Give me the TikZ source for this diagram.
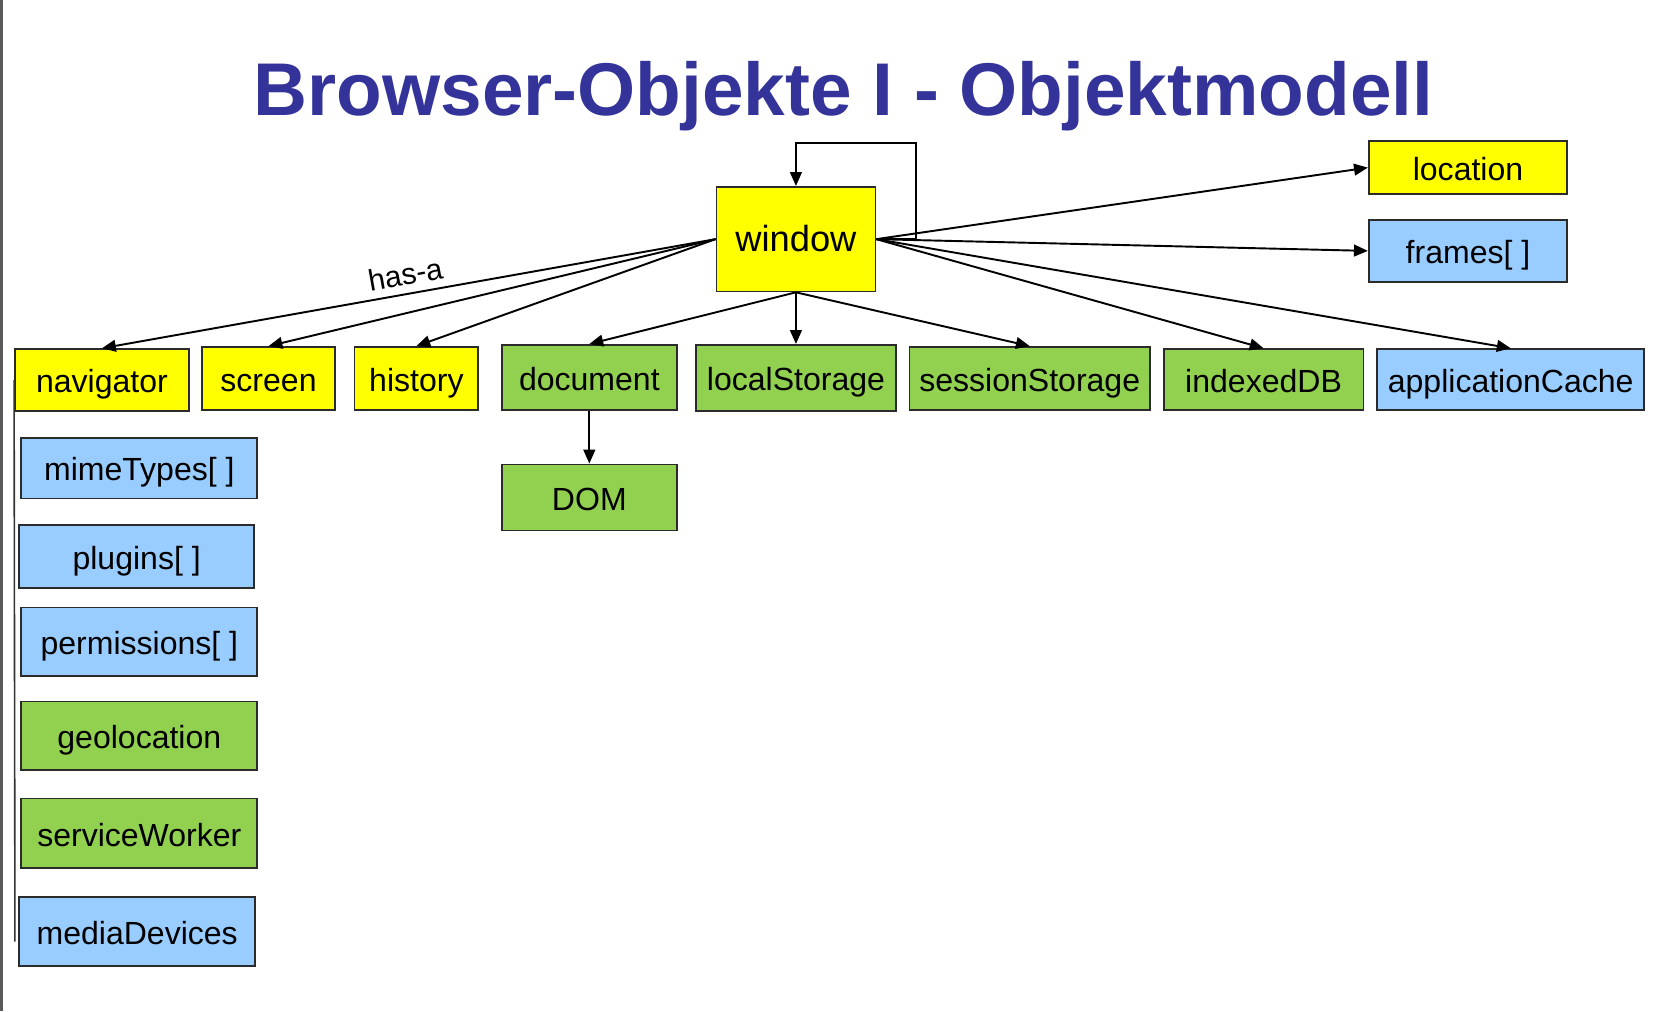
\documentclass[tikz,border=0pt]{standalone}
\usepackage{fontspec}
\setmainfont{Liberation Sans}
\usepackage{tikz}
\usetikzlibrary{arrows.meta}
\definecolor{titleblue}{HTML}{333399}
\definecolor{boxyellow}{HTML}{FFFF00}
\definecolor{boxgreen}{HTML}{92D050}
\definecolor{boxblue}{HTML}{99CCFF}
\definecolor{boxline}{HTML}{2B2B2B}

\begin{document}
\begin{tikzpicture}[x=1pt, y=-1pt,
  box/.style={draw=boxline, line width=1.6pt, inner sep=0pt, text height=24pt, text depth=0pt, font=\fontsize{30}{36}\selectfont},
  yel/.style={box, fill=boxyellow},
  grn/.style={box, fill=boxgreen},
  blu/.style={box, fill=boxblue},
  arr/.style={line width=1.8pt, -{Triangle[length=13pt,width=11pt]}}]
\useasboundingbox (0,0) rectangle (1567,947);
\fill [black!65] (0,0) rectangle (2.5,947);
\node [font=\bfseries\fontsize{70}{84}\selectfont, text=titleblue, anchor=base] (title) at (790,108) {Browser-Objekte I - Objektmodell};
\node [yel, minimum width=149pt, minimum height=98pt, font=\fontsize{34}{40}\selectfont] (window) at (745.5,224) {window};
\node [yel, minimum width=186pt, minimum height=50pt] (location) at (1375,157) {location};
\node [blu, minimum width=186pt, minimum height=58pt] (frames) at (1375,235) {frames[ ]};
\node [yel, minimum width=163pt, minimum height=58pt] (navigator) at (95.5,356) {navigator};
\node [yel, minimum width=125pt, minimum height=59pt] (screen) at (251.5,354.5) {screen};
\node [yel, minimum width=116pt, minimum height=59pt] (history) at (390,354.5) {history};
\node [grn, minimum width=164pt, minimum height=61pt] (document) at (552,353.5) {document};
\node [grn, minimum width=187pt, minimum height=62pt] (localStorage) at (745.5,354) {localStorage};
\node [grn, minimum width=225pt, minimum height=59pt] (sessionStorage) at (964.5,354.5) {sessionStorage};
\node [grn, minimum width=187pt, minimum height=57pt] (indexedDB) at (1183.5,355.5) {indexedDB};
\node [blu, minimum width=250pt, minimum height=57pt] (applicationCache) at (1415,355.5) {applicationCache};
\node [grn, minimum width=164pt, minimum height=62pt] (DOM) at (552,466) {DOM};
\node [blu, minimum width=221pt, minimum height=57pt] (mimeTypes) at (130.5,438.5) {mimeTypes[ ]};
\node [blu, minimum width=220pt, minimum height=59pt] (plugins) at (128,521.5) {plugins[ ]};
\node [blu, minimum width=221pt, minimum height=64pt] (permissions) at (130.5,601) {permissions[ ]};
\node [grn, minimum width=221pt, minimum height=64pt] (geolocation) at (130.5,689) {geolocation};
\node [grn, minimum width=221pt, minimum height=65pt] (serviceWorker) at (130.5,780.5) {serviceWorker};
\node [blu, minimum width=221pt, minimum height=65pt] (mediaDevices) at (128.5,872.5) {mediaDevices};
\coordinate (loop) at (858,134);
\coordinate (navend) at (14,882);
\path (window.west) edge [arr] node[above=4pt, sloped, font=\fontsize{28}{34}\selectfont] {has-a} (navigator.north);
\path (window.west) edge [arr] (screen.north);
\path (window.west) edge [arr] (history.north);
\path (window.south) edge [arr] (document.north);
\path (window.south) edge [arr] (localStorage.north);
\path (window.south) edge [arr] (sessionStorage.north);
\path (window.east) edge [arr] (indexedDB.north);
\path (window.east) edge [arr] (applicationCache.north);
\path (window.east) edge [arr] (location.west);
\path (window.east) edge [arr] (frames.west);
\draw [arr] (window.east) -| (loop) -| (window.north);
\path (document.south) edge [arr] (DOM.north);
\draw [line width=1.5pt, black!80] (navigator.west) -- (navend);
\end{tikzpicture}
\end{document}
